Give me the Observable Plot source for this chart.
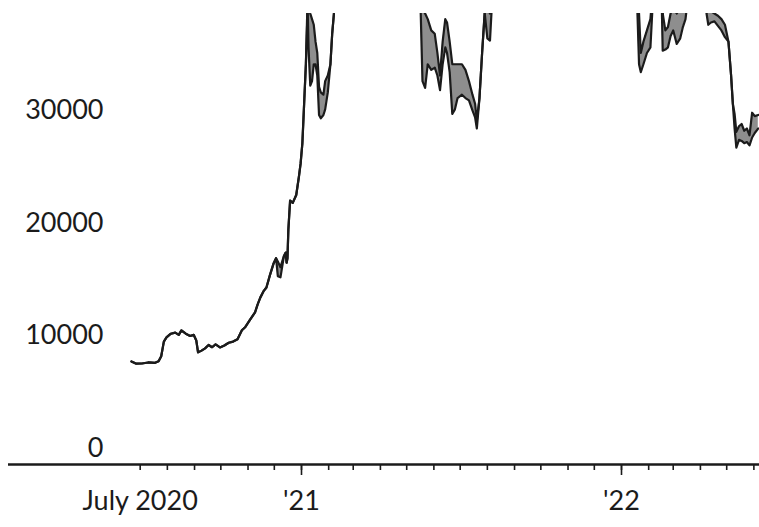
<!DOCTYPE html>
<html><head><meta charset="utf-8">
<script src="https://cdn.jsdelivr.net/npm/d3@7"></script>
<script src="https://cdn.jsdelivr.net/npm/@observablehq/plot@0.6"></script>
<style>body{margin:0;background:#fff} svg{display:block}</style>
</head><body><div id="chart"></div>
<script>
// Bitcoin price, $ (low / high envelope; values above 40000 are clipped)
const dates = [
"2020-06-21","2020-06-26","2020-07-03","2020-07-10","2020-07-18","2020-07-22","2020-07-25","2020-07-28","2020-07-31",
"2020-08-05","2020-08-10","2020-08-14","2020-08-17","2020-08-22","2020-08-27","2020-08-31","2020-09-03","2020-09-05",
"2020-09-09","2020-09-13","2020-09-17","2020-09-21","2020-09-25","2020-09-30","2020-10-05","2020-10-10","2020-10-15",
"2020-10-20","2020-10-25","2020-10-29","2020-11-03","2020-11-09","2020-11-12","2020-11-15","2020-11-19","2020-11-22",
"2020-11-26","2020-11-30","2020-12-03","2020-12-05","2020-12-08","2020-12-12","2020-12-14","2020-12-15","2020-12-16",
"2020-12-17","2020-12-19","2020-12-22","2020-12-26","2020-12-29","2020-12-31","2021-01-02","2021-01-04","2021-01-06",
"2021-01-08","2021-01-09","2021-01-11","2021-01-13","2021-01-15","2021-01-17","2021-01-19","2021-01-21","2021-01-23",
"2021-01-26","2021-01-28","2021-01-31","2021-02-03","2021-02-05","2021-02-07","2021-02-09","2021-02-14","2021-02-21",
"2021-02-28","2021-03-13","2021-03-25","2021-04-14","2021-04-25","2021-05-08","2021-05-12","2021-05-15","2021-05-17",
"2021-05-19","2021-05-22","2021-05-25","2021-05-29","2021-06-02","2021-06-05","2021-06-08","2021-06-11","2021-06-14",
"2021-06-16","2021-06-19","2021-06-22","2021-06-25","2021-06-28","2021-07-03","2021-07-07","2021-07-11","2021-07-15",
"2021-07-18","2021-07-20","2021-07-23","2021-07-26","2021-07-29","2021-08-01","2021-08-04","2021-08-07","2021-08-23",
"2021-09-06","2021-09-21","2021-10-20","2021-11-08","2021-12-04","2021-12-31","2022-01-10","2022-01-15","2022-01-19",
"2022-01-21","2022-01-23","2022-01-26","2022-01-30","2022-02-03","2022-02-06","2022-02-10","2022-02-15","2022-02-16",
"2022-02-17","2022-02-20","2022-02-23","2022-02-26","2022-03-01","2022-03-05","2022-03-09","2022-03-12","2022-03-15",
"2022-03-18","2022-03-28","2022-04-05","2022-04-08","2022-04-10","2022-04-13","2022-04-17","2022-04-21","2022-04-25",
"2022-04-29","2022-05-03","2022-05-06","2022-05-08","2022-05-10","2022-05-12","2022-05-15","2022-05-18","2022-05-21",
"2022-05-24","2022-05-27","2022-05-30","2022-06-02","2022-06-06"
];
const low = [
9140,8950,8960,9050,9020,9150,9600,10900,11270,
11600,11700,11500,11900,11600,11400,11500,11000,9950,
10100,10300,10600,10400,10650,10380,10550,10800,10900,
11100,11900,12200,12800,13500,14200,14800,15400,15700,
16800,17800,18300,16700,16600,18500,18800,17900,18300,
20800,23400,23200,23900,25500,26700,28500,32000,35500,
40500,37000,33600,34000,35500,35500,34500,31000,30700,
31000,31500,33000,35500,38200,40000,46500,48000,57500,
45000,61000,52000,63500,49000,58000,49000,45000,40000,
34000,33400,35500,35000,35200,34500,33200,35500,37000,
36500,34800,31100,31500,32500,32800,32500,32300,31400,
30800,29800,32500,36500,40000,37800,37600,42000,49500,
52000,41500,65000,67500,49000,46500,41800,43000,40500,
35500,34800,35500,36500,37000,41500,44000,41000,40500,
36700,36800,37000,38000,38500,37300,37800,38800,39500,
41500,47000,45500,40000,39000,39200,39300,38900,38500,
37900,37500,34500,32000,29800,28100,28800,28700,28500,
28600,28300,29000,29400,29800
];
const high = [
9140,8950,8960,9050,9020,9150,9600,10900,11270,
11600,11700,11500,11900,11600,11400,11500,11000,9950,
10100,10300,10600,10400,10650,10380,10550,10800,10900,
11100,11900,12200,12800,13500,14200,14800,15400,15700,
16800,17800,18300,18000,17500,18500,18800,17900,18300,
20800,23400,23200,23900,25500,26700,28500,32000,35500,
41500,40800,40000,39500,39000,37500,36500,33500,33000,
32800,34000,34500,35500,38200,40000,46500,48000,57500,
45000,61000,52000,63500,49000,58000,49000,46000,44000,
40500,40000,39500,38500,38200,36500,34500,37500,39500,
39200,37500,35500,35500,35500,35500,35000,34000,32800,
32000,30500,32500,36500,40200,40500,40000,44000,49500,
52000,41500,65000,67500,49000,46500,41800,43000,42000,
40000,36500,37500,38500,39500,42500,44000,43500,41000,
40000,38500,38800,40000,40500,40000,40500,40200,41000,
41500,47000,45500,42500,40500,40200,40000,39800,39500,
39000,37500,34500,32000,31100,29500,30000,30200,29600,
29800,29200,31200,30900,31000
];
const yTicks = [0, 10000, 20000, 30000];
const monthTicks = d3.utcMonth.range(new Date("2020-07-01"), new Date("2022-06-02"));
const yearTicks = [new Date("2021-01-01"), new Date("2022-01-01")];
const labelDates = [new Date("2020-07-01"), new Date("2021-01-01"), new Date("2022-01-01")];
const labelTexts = ["July 2020", "'21", "'22"];

const data = dates.map((d, i) => ({date: new Date(d), lo: low[i], hi: high[i]}));

// x scale anchored so that a year spans the same width as in the reference
const W = 759, ML = 8, DAY = 864e5;
const jan21 = +new Date("2021-01-01"), pxYear = 320, x21 = 301;
const perPx = 365 * DAY / pxYear;
const xDomain = [new Date(jan21 - (x21 - ML) * perPx), new Date(jan21 + (W - x21) * perPx)];

const ink = "#1b1b1b";
const chart = Plot.plot({
  width: W, height: 527,
  marginLeft: ML, marginRight: 0, marginTop: 13, marginBottom: 63,
  style: {fontFamily: "Lato, 'Open Sans', sans-serif", fontSize: "27px", color: ink, background: "#fff"},
  x: {type: "utc", domain: xDomain},
  y: {domain: [0, 40000]},
  marks: [
    Plot.areaY(data, {x: "date", y1: "lo", y2: "hi", fill: "#8e8e8e", clip: true}),
    Plot.lineY(data, {x: "date", y: "lo", stroke: ink, strokeWidth: 2.2, clip: true}),
    Plot.lineY(data, {x: "date", y: "hi", stroke: ink, strokeWidth: 2.2, clip: true}),
    Plot.ruleY([0], {stroke: ink, strokeWidth: 2.5}),
    Plot.axisY(yTicks, {anchor: "left", tickSize: 0, tickPadding: 0, dx: 95, dy: -16, tickFormat: d => String(d)}),
    Plot.axisX(monthTicks, {anchor: "bottom", tickSize: 6, strokeWidth: 1.6, text: null}),
    Plot.axisX(yearTicks, {anchor: "bottom", tickSize: 11, strokeWidth: 1.6, text: null}),
    Plot.axisX(labelDates, {anchor: "bottom", tickSize: 0, tickPadding: 26,
      tickFormat: d => labelTexts[labelDates.findIndex(e => +e === +d)]})
  ]
});
document.getElementById("chart").append(chart);
</script>
</body></html>
